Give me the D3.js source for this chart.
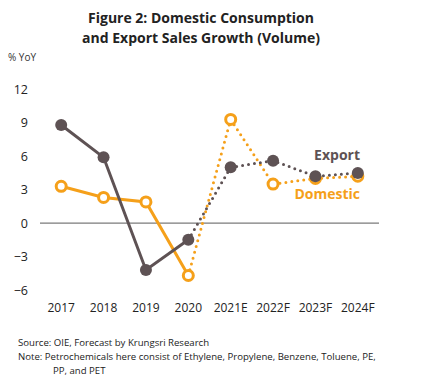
<!DOCTYPE html>
<html>
<head>
<meta charset="utf-8">
<script src="https://cdn.jsdelivr.net/npm/d3@7"></script>
<style>
  body { margin: 0; background: #fff; }
  text { font-family: "Open Sans", "Liberation Sans", sans-serif; }
</style>
</head>
<body>
<div id="chart"></div>
<script>
const years = ["2017", "2018", "2019", "2020", "2021E", "2022F", "2023F", "2024F"];
const exportVals = [8.8, 5.9, -4.2, -1.5, 5.0, 5.6, 4.2, 4.5];
const domesticVals = [3.3, 2.3, 1.9, -4.7, 9.3, 3.5, 4.0, 4.2];
const yTicks = [-6, -3, 0, 3, 6, 9, 12];
const actualCount = 4; // 2017-2020 are actuals, the rest forecast

const svgWidth = 435, svgHeight = 382;
const grey = "#5e5254", orange = "#f5a01a";

const svg = d3.select("#chart").append("svg")
    .attr("width", svgWidth)
    .attr("height", svgHeight);

const x = d3.scaleBand().domain(years).range([40, 379]);
const y = d3.scaleLinear().domain([-6, 12]).range([290, 89.3]);
const cx = d => x(d) + x.bandwidth() / 2;

// title
svg.append("text").attr("x", 201).attr("y", 23).attr("text-anchor", "middle")
    .attr("font-size", 14).attr("font-weight", "bold").attr("fill", "#222")
    .text("Figure 2: Domestic Consumption");
svg.append("text").attr("x", 201).attr("y", 43).attr("text-anchor", "middle")
    .attr("font-size", 14).attr("font-weight", "bold").attr("fill", "#222")
    .text("and Export Sales Growth (Volume)");

svg.append("text").attr("x", 8).attr("y", 61).attr("font-size", 10).attr("fill", "#333").text("% YoY");

// y axis labels
const yAxis = d3.axisLeft(y).tickValues(yTicks).tickSize(0).tickPadding(0);
svg.append("g").attr("transform", "translate(28,0)").call(yAxis)
    .call(g => g.select(".domain").remove())
    .selectAll("text").attr("font-size", 12.5).attr("fill", "#222")
    .attr("font-family", "Open Sans");

// x axis labels
const xAxis = d3.axisBottom(x).tickSize(0).tickPadding(0);
svg.append("g").attr("transform", "translate(0,303)").call(xAxis)
    .call(g => g.select(".domain").remove())
    .selectAll("text").attr("font-size", 12).attr("fill", "#222")
    .attr("font-family", "Open Sans");

// zero line
svg.append("line").attr("x1", 40).attr("x2", 379).attr("y1", y(0)).attr("y2", y(0))
    .attr("stroke", "#595959").attr("stroke-width", 1);

const line = d3.line().x(d => cx(d.year)).y(d => y(d.v));

function drawSeries(vals, color, filled) {
  const pts = years.map((yr, i) => ({ year: yr, v: vals[i] }));
  svg.append("path").datum(pts.slice(0, actualCount)).attr("d", line)
      .attr("fill", "none").attr("stroke", color).attr("stroke-width", 3);
  svg.append("path").datum(pts.slice(actualCount - 1)).attr("d", line)
      .attr("fill", "none").attr("stroke", color).attr("stroke-width", 3)
      .attr("stroke-linecap", "round").attr("stroke-dasharray", "0 6");
  svg.append("g").selectAll("circle").data(pts).join("circle")
      .attr("cx", d => cx(d.year)).attr("cy", d => y(d.v))
      .attr("r", filled ? 6 : 5)
      .attr("fill", filled ? color : "#fff")
      .attr("stroke", color).attr("stroke-width", filled ? 0 : 3);
}

drawSeries(domesticVals, orange, false);
drawSeries(exportVals, grey, true);

svg.append("text").attr("x", 360).attr("y", 160).attr("text-anchor", "end")
    .attr("font-size", 14).attr("font-weight", "bold").attr("fill", grey).text("Export");
svg.append("text").attr("x", 360).attr("y", 199).attr("text-anchor", "end")
    .attr("font-size", 14).attr("font-weight", "bold").attr("fill", orange).text("Domestic");

// notes
const notes = svg.append("g").attr("font-size", 9.6).attr("fill", "#222");
notes.append("text").attr("x", 18).attr("y", 346).text("Source: OIE, Forecast by Krungsri Research");
notes.append("text").attr("x", 18).attr("y", 360).text("Note: Petrochemicals here consist of Ethylene, Propylene, Benzene, Toluene, PE,");
notes.append("text").attr("x", 53).attr("y", 374).text("PP, and PET");
</script>
</body>
</html>
